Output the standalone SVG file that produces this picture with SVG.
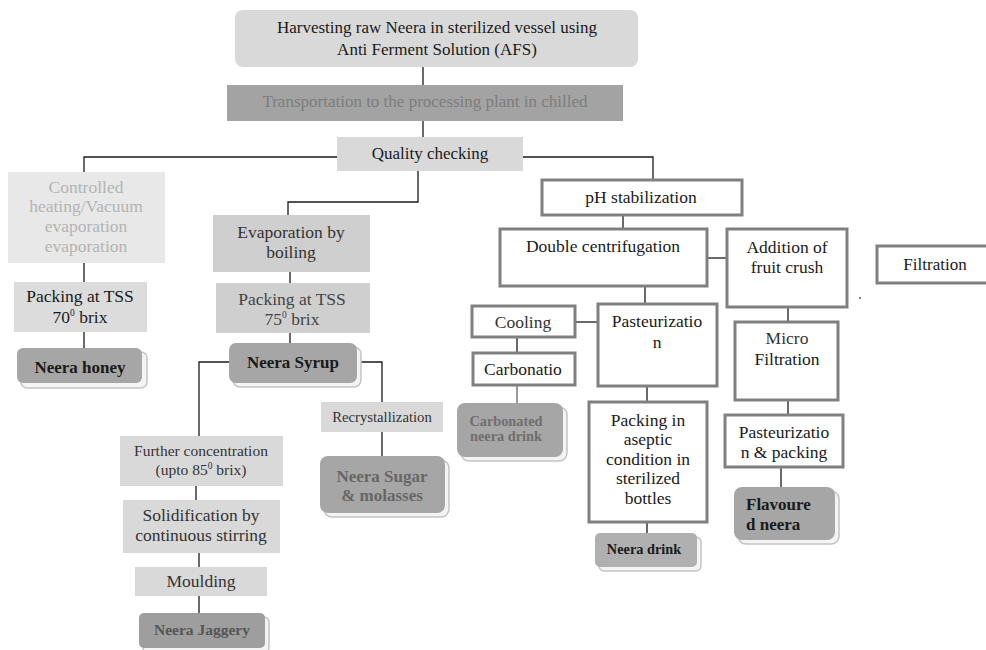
<svg xmlns="http://www.w3.org/2000/svg" width="986" height="650" viewBox="0 0 986 650" font-family="Liberation Serif, DejaVu Serif, Noto Serif, serif">
<style>
text{font-family:'Liberation Serif','DejaVu Serif','Noto Serif',serif;text-anchor:middle;fill:#1a1a1a}
.f17{font-size:17px}.f175{font-size:17.5px}.f15{font-size:15.5px}.f147{font-size:14.7px}.f14{font-size:14.3px}
.b{font-weight:bold}
.lt{fill:#d9d9d9}.vlt{fill:#e8e8e8}.md{fill:#cfcfcf}.dk{fill:#a6a6a6}
.wb{fill:#fff;stroke:#808080;stroke-width:3}
.sh{fill:#f4f4f4;stroke:#c4c4c4;stroke-width:1.5}
.con line,.con polyline{stroke:#1a1a1a;stroke-width:1.3;fill:none}
.sup{font-size:9.5px}
</style>
<rect width="986" height="650" fill="#fff"/>
<g class="con">
<line x1="423" y1="67" x2="423" y2="85"/>
<line x1="423" y1="121" x2="423" y2="137"/>
<polyline points="337,157 84,157 84,172"/>
<polyline points="523,157 653,157 653,179"/>
<polyline points="418,171 418,202 288,202 288,215"/>
<line x1="84" y1="263" x2="84" y2="282"/>
<line x1="84" y1="332" x2="84" y2="348"/>
<line x1="290" y1="272" x2="290" y2="283"/>
<line x1="290" y1="333" x2="290" y2="343"/>
<polyline points="229,362 199,362 199,436"/>
<polyline points="357,362 382,362 382,402"/>
<line x1="382" y1="432" x2="382" y2="456"/>
<line x1="196" y1="486" x2="196" y2="500"/>
<line x1="199" y1="553" x2="199" y2="567"/>
<line x1="199" y1="596" x2="199" y2="613"/>
<line x1="623" y1="215" x2="623" y2="228"/>
<line x1="707" y1="258" x2="727" y2="258"/>
<line x1="645" y1="286" x2="645" y2="303"/>
<line x1="575" y1="322" x2="598" y2="322"/>
<line x1="517" y1="337" x2="517" y2="352"/>
<line x1="517" y1="385" x2="517" y2="403" style="stroke:#666"/>
<line x1="647" y1="386" x2="647" y2="401"/>
<line x1="647" y1="522" x2="647" y2="533"/>
<line x1="788" y1="307" x2="788" y2="322"/>
<line x1="788" y1="400" x2="788" y2="415"/>
<line x1="781" y1="467" x2="781" y2="487"/>
</g>
<g id="harvest"><rect x="235" y="10" width="403" height="57" rx="8" class="lt"/>
<text class="f17" x="437" y="33">Harvesting raw Neera in sterilized vessel using</text>
<text class="f17" x="437" y="55">Anti Ferment Solution (AFS)</text></g>
<g id="transport"><rect x="227" y="85" width="396" height="36" fill="#a3a3a3"/>
<text class="f17" x="425" y="107" style="fill:#7d7d7d">Transportation to the processing plant in chilled</text></g>
<g id="quality"><rect x="337" y="137" width="186" height="34" class="lt"/>
<text class="f17" x="430" y="159">Quality checking</text></g>
<g id="controlled"><rect x="8" y="172" width="157" height="91" class="vlt"/>
<text class="f175" x="86" y="193" style="fill:#b4b4b4">Controlled</text>
<text class="f175" x="86" y="212" style="fill:#b4b4b4">heating/Vacuum</text>
<text class="f175" x="86" y="232" style="fill:#b4b4b4">evaporation</text>
<text class="f175" x="86" y="252" style="fill:#b4b4b4">evaporation</text></g>
<g id="pack70"><rect x="14" y="282" width="133" height="50" fill="#dcdcdc"/>
<text class="f175" x="80" y="302">Packing at TSS</text>
<text class="f175" x="80" y="323">70<tspan class="sup" dy="-7">0</tspan><tspan dy="7"> brix</tspan></text></g>
<g id="honey"><rect x="21" y="352" width="126" height="36" rx="6" class="sh"/>
<rect x="17" y="348" width="125" height="35" rx="6" class="dk"/>
<text class="f17 b" x="80" y="373">Neera honey</text></g>
<g id="evap"><rect x="213" y="215" width="157" height="57" class="md"/>
<text class="f175" x="291" y="238" style="fill:#333">Evaporation by</text>
<text class="f175" x="291" y="258" style="fill:#333">boiling</text></g>
<g id="pack75"><rect x="216" y="283" width="154" height="50" class="md"/>
<text class="f175" x="292" y="305" style="fill:#444">Packing at TSS</text>
<text class="f175" x="292" y="325" style="fill:#444">75<tspan class="sup" dy="-7">0</tspan><tspan dy="7"> brix</tspan></text></g>
<g id="syrup"><rect x="233" y="347" width="128" height="40" rx="7" class="sh"/>
<rect x="229" y="343" width="128" height="40" rx="7" class="dk"/>
<text class="f17 b" x="293" y="368">Neera Syrup</text></g>
<g id="further"><rect x="120" y="436" width="163" height="50" class="lt"/>
<text class="f15" x="201" y="456" style="fill:#333">Further concentration</text>
<text class="f15" x="201" y="475" style="fill:#333">(upto 85<tspan class="sup" dy="-6">0</tspan><tspan dy="6"> brix)</tspan></text></g>
<g id="solid"><rect x="123" y="500" width="157" height="53" class="lt"/>
<text class="f175" x="201" y="521" style="fill:#333">Solidification by</text>
<text class="f175" x="201" y="541" style="fill:#333">continuous stirring</text></g>
<g id="mould"><rect x="135" y="567" width="132" height="29" class="lt"/>
<text class="f175" x="201" y="587" style="fill:#333">Moulding</text></g>
<g id="jaggery"><rect x="143" y="617" width="126" height="36" rx="5" class="sh"/>
<rect x="139" y="613" width="126" height="35" rx="5" fill="#9e9e9e"/>
<text class="f15 b" x="202" y="635" style="fill:#555">Neera Jaggery</text></g>
<g id="recryst"><rect x="321" y="402" width="122" height="30" class="lt"/>
<text class="f147" x="382" y="422" style="fill:#333">Recrystallization</text></g>
<g id="sugar"><rect x="324" y="460" width="125" height="57" rx="8" class="sh"/>
<rect x="320" y="456" width="125" height="57" rx="8" class="dk"/>
<text class="f17 b" x="382" y="482" style="fill:#666">Neera Sugar</text>
<text class="f17 b" x="382" y="501" style="fill:#666">&amp; molasses</text></g>
<g id="ph"><rect x="542" y="180" width="200" height="35" class="wb"/>
<text class="f175" x="641" y="203">pH stabilization</text></g>
<g id="double"><rect x="500" y="229" width="207" height="57" class="wb"/>
<text class="f175" x="603" y="252">Double centrifugation</text></g>
<g id="fruit"><rect x="727" y="229" width="120" height="78" class="wb"/>
<text class="f175" x="787" y="253">Addition of</text>
<text class="f175" x="787" y="273">fruit crush</text></g>
<g id="filtration"><rect x="877" y="246" width="120" height="37" class="wb"/>
<text class="f17" x="935" y="270">Filtration</text></g>
<circle cx="860" cy="298" r="0.9" fill="#444"/>
<g id="cooling"><rect x="472" y="306" width="103" height="31" class="wb"/>
<text class="f175" x="523" y="328" style="fill:#333">Cooling</text></g>
<g id="carbonatio"><rect x="473" y="353" width="102" height="32" class="wb"/>
<text class="f175" x="523" y="375">Carbonatio</text></g>
<g id="pasteur"><rect x="598" y="304" width="119" height="82" class="wb"/>
<text class="f175" x="657" y="327">Pasteurizatio</text>
<text class="f175" x="657" y="348">n</text></g>
<g id="carbonated"><rect x="461" y="407" width="106" height="54" rx="8" class="sh"/>
<rect x="457" y="403" width="106" height="54" rx="8" class="dk"/>
<text class="f14 b" x="506" y="426" style="fill:#6e6e6e">Carbonated</text>
<text class="f14 b" x="506" y="441" style="fill:#6e6e6e">neera drink</text></g>
<g id="aseptic"><rect x="589" y="402" width="118" height="120" class="wb"/>
<text class="f175" x="648" y="426">Packing in</text>
<text class="f175" x="648" y="445">aseptic</text>
<text class="f175" x="648" y="465">condition in</text>
<text class="f175" x="648" y="484">sterilized</text>
<text class="f175" x="648" y="504">bottles</text></g>
<g id="drink"><rect x="599" y="537" width="102" height="34" rx="5" class="sh"/>
<rect x="595" y="533" width="102" height="34" rx="5" fill="#b0b0b0"/>
<text class="f14 b" x="644" y="554">Neera drink</text></g>
<g id="micro"><rect x="735" y="322" width="103" height="78" class="wb"/>
<text class="f175" x="787" y="344" style="fill:#333">Micro</text>
<text class="f175" x="787" y="365">Filtration</text></g>
<g id="pastpack"><rect x="725" y="415" width="118" height="52" class="wb"/>
<text class="f175" x="784" y="438">Pasteurizatio</text>
<text class="f175" x="784" y="458">n &amp; packing</text></g>
<g id="flavoured"><rect x="738" y="491" width="101" height="53" rx="8" class="sh"/>
<rect x="734" y="487" width="101" height="53" rx="8" class="dk"/>
<text class="f17 b" x="746" y="510" style="text-anchor:start">Flavoure</text>
<text class="f17 b" x="746" y="530" style="text-anchor:start">d neera</text></g>
</svg>
